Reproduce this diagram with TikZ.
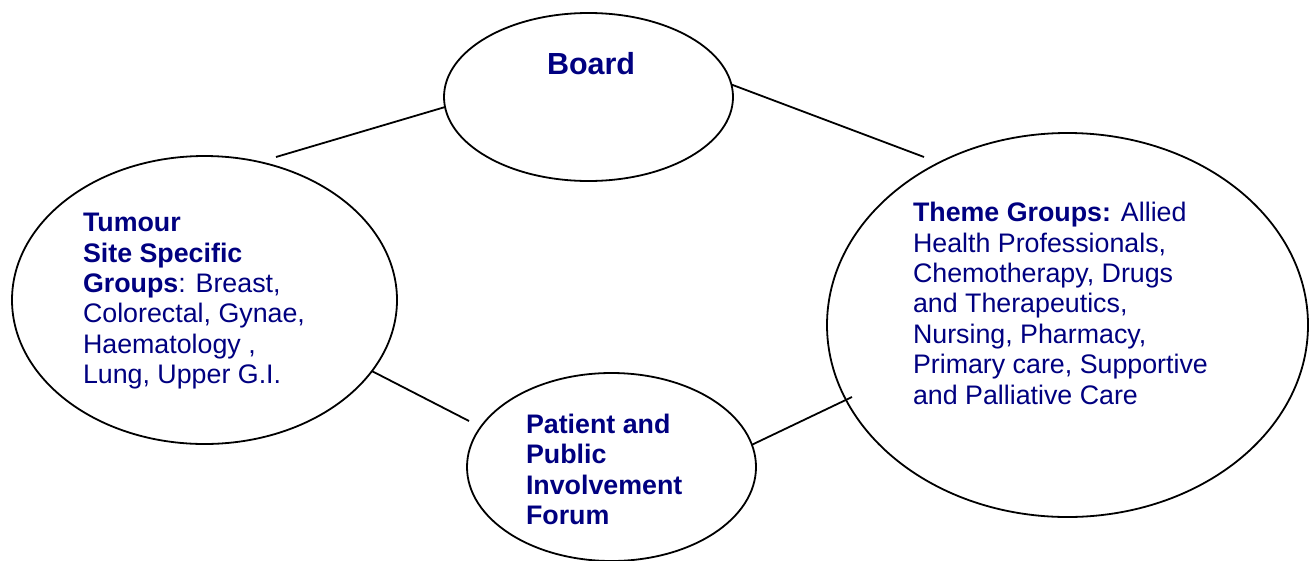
\documentclass[tikz,border=0pt]{standalone}
\usepackage{fontspec}
\setmainfont{Liberation Sans}
\usetikzlibrary{shapes.geometric}
\definecolor{navy}{RGB}{0,0,128}
\newcommand\txtblock[1]{\vtop{\baselineskip=30.4pt\lineskiplimit=-100pt #1}}
\begin{document}
\begin{tikzpicture}[x=1pt,y=-1pt,
  bubble/.style={draw=black, line width=1.8pt, ellipse, inner sep=0pt, outer sep=0pt},
  link/.style={draw=black, line width=1.8pt},
  txt/.style={anchor=base west, inner sep=0pt, outer sep=0pt, text=navy, font=\fontsize{26.8}{30.4}\selectfont}]
\useasboundingbox (0,0) rectangle (1314,560);
% ellipses
\node[bubble, minimum width=289pt, minimum height=168pt] (board) at (588.5,97) {};
\node[bubble, minimum width=385pt, minimum height=288pt] (tumour) at (204.5,300) {};
\node[bubble, minimum width=481pt, minimum height=384pt] (theme) at (1067.5,325) {};
\node[bubble, minimum width=289pt, minimum height=188pt] (patient) at (611.5,467) {};
% texts
\node[txt, font=\fontsize{30.5}{34}\selectfont\bfseries] (boardtxt) at (547,74) {Board};
\node[txt] (tumourtxt) at (83,231.7) {\txtblock{%
  \hbox{\textbf{Tumour}}
  \hbox{\textbf{Site Specific}}
  \hbox{\textbf{Groups}: Breast,}
  \hbox{Colorectal, Gynae,}
  \hbox{Haematology ,}
  \hbox{Lung, Upper G.I.}}};
\node[txt] (themetxt) at (913,221.7) {\txtblock{%
  \hbox{\textbf{Theme Groups:} Allied}
  \hbox{Health Professionals,}
  \hbox{Chemotherapy, Drugs}
  \hbox{and Therapeutics,}
  \hbox{Nursing, Pharmacy,}
  \hbox{Primary care, Supportive}
  \hbox{and Palliative Care}}};
\node[txt, font=\fontsize{26.8}{30.4}\selectfont\bfseries] (patienttxt) at (526,433.3) {\txtblock{%
  \hbox{Patient and}
  \hbox{Public}
  \hbox{Involvement}
  \hbox{Forum}}};
% free ends of connectors
\coordinate (c1) at (276,157);
\coordinate (c2) at (924,157);
\coordinate (c3) at (469,421);
\coordinate (c4) at (852,397);
% connectors
\draw[link] (c1) -- (board.184.4);
\draw[link] (board.5.2) -- (c2);
\draw[link] (tumour.-23.5) -- (c3);
\draw[link] (patient.9) -- (c4);
\end{tikzpicture}
\end{document}
